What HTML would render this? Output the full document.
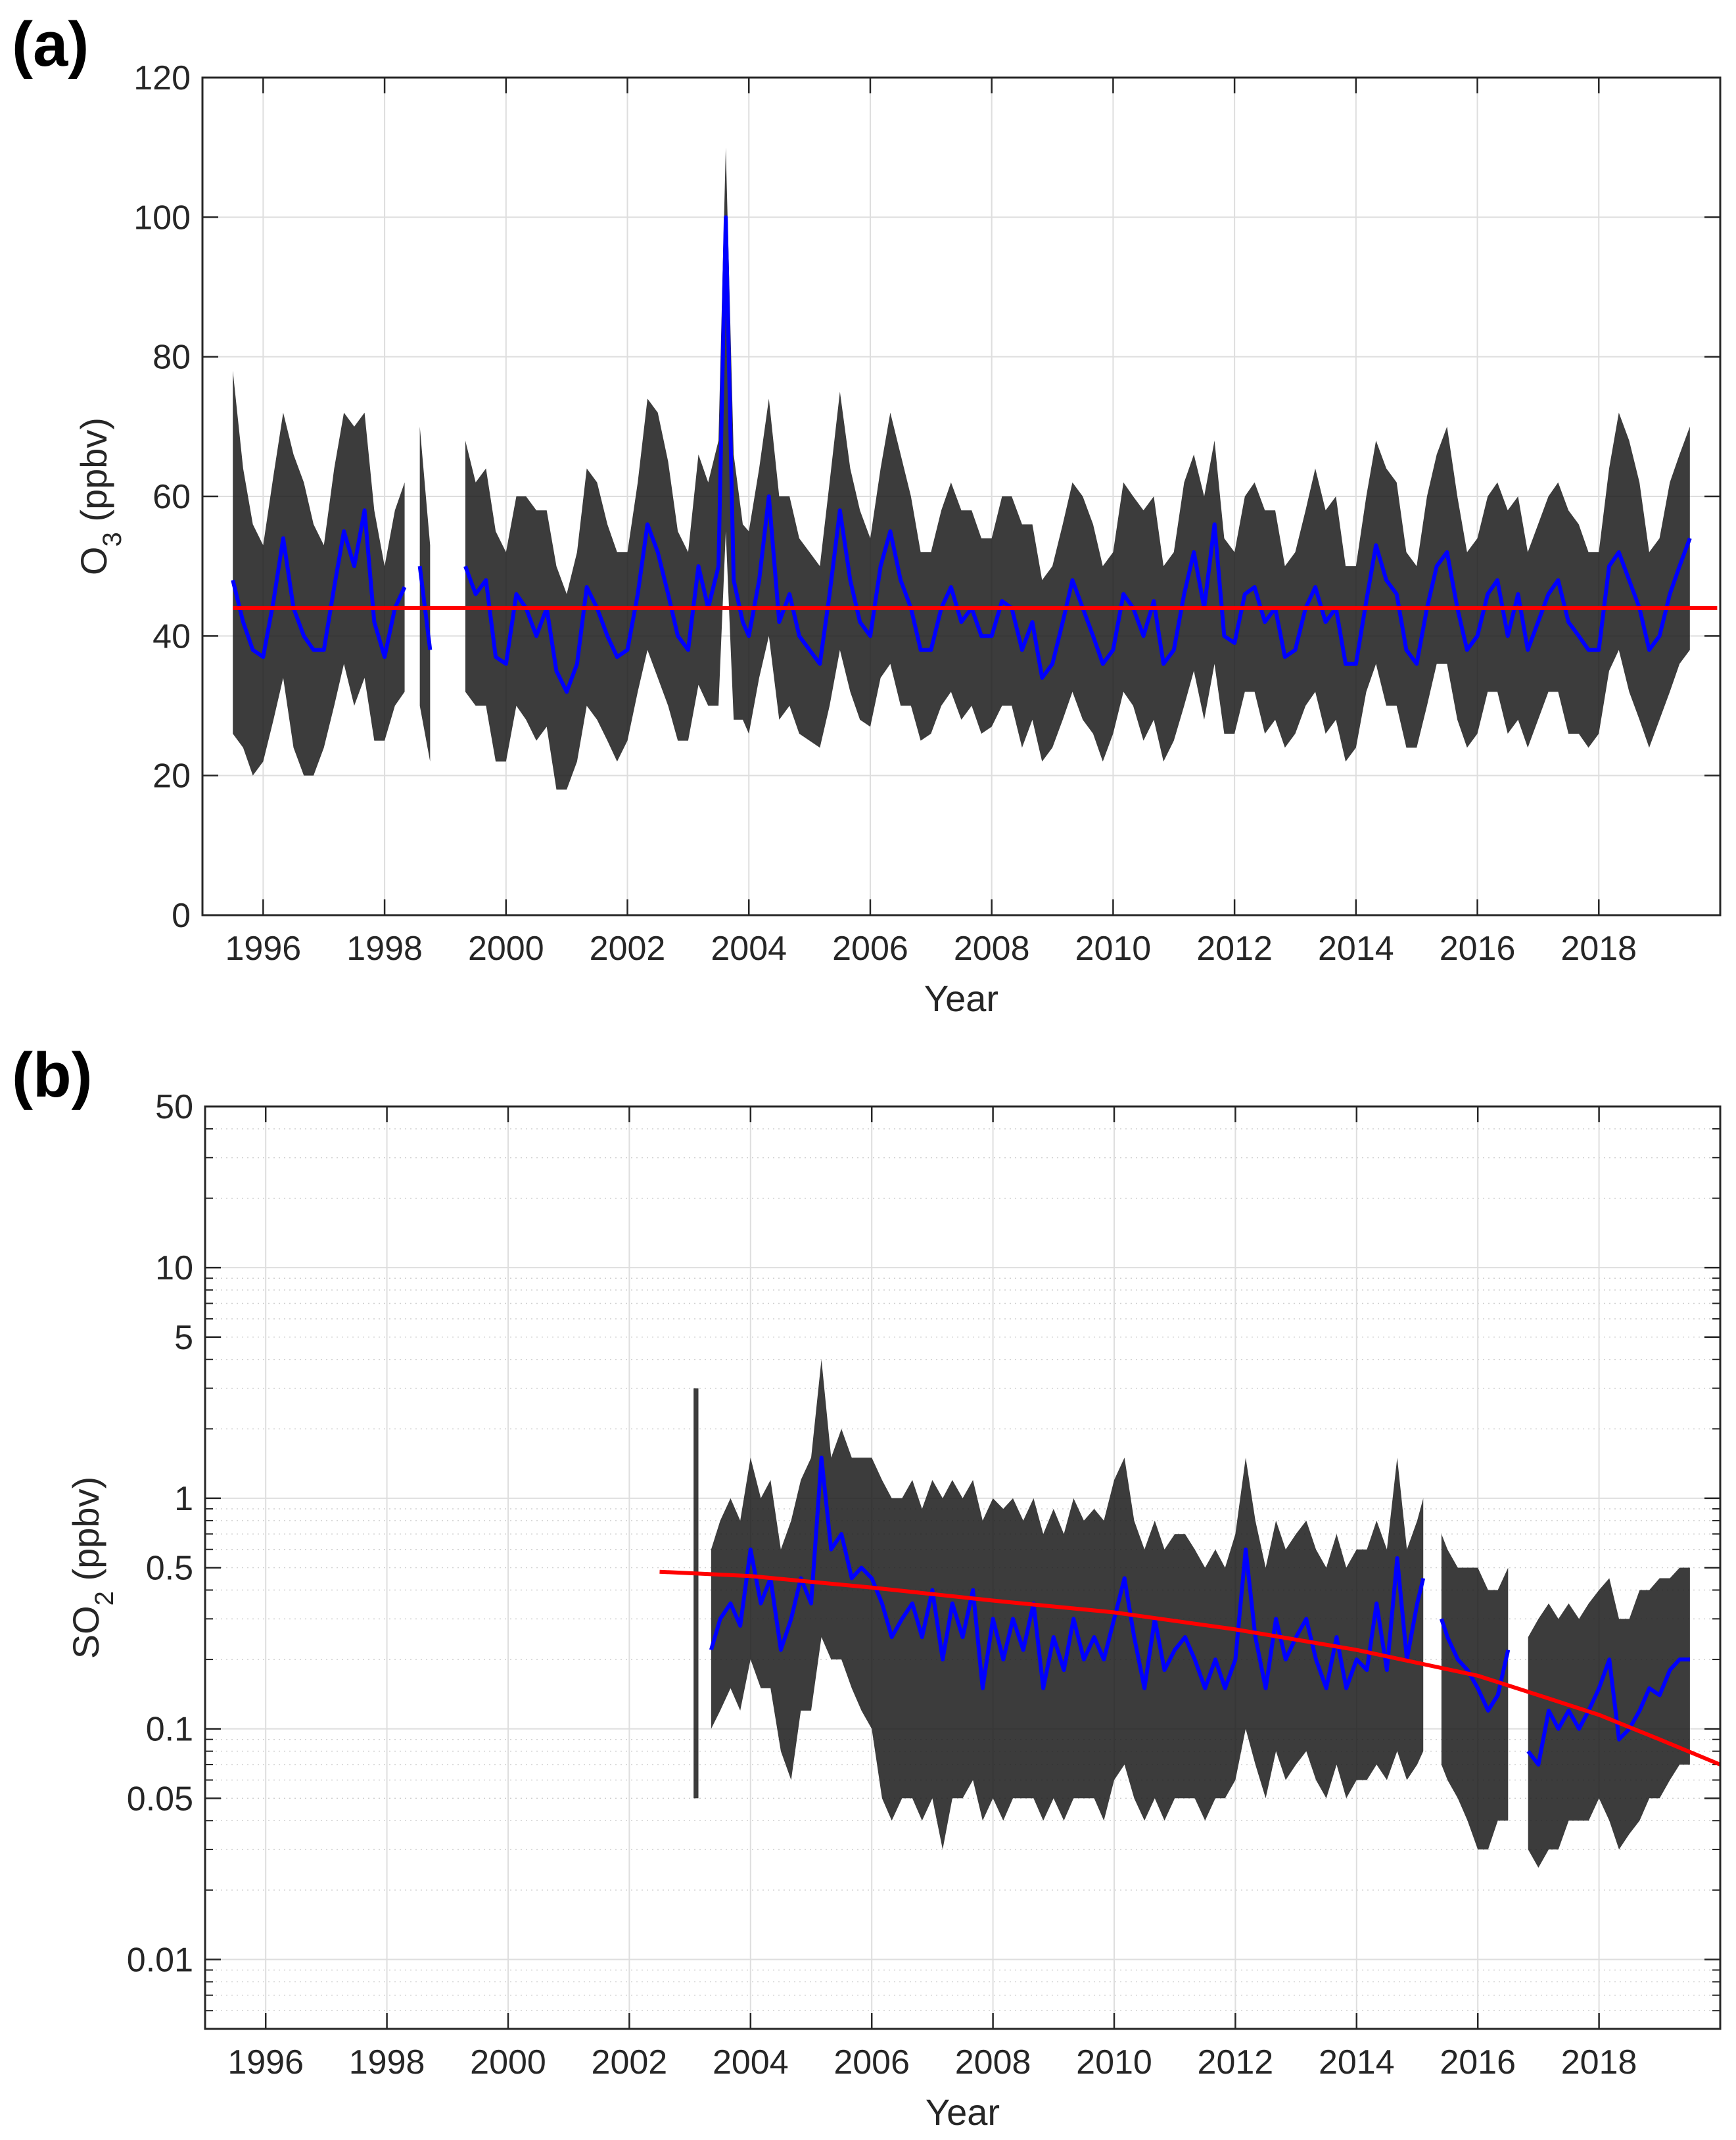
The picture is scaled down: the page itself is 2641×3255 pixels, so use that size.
<!DOCTYPE html>
<html><head><meta charset="utf-8"><style>
html,body{margin:0;padding:0;background:#fff}
svg text{font-family:"Liberation Sans",Arial,sans-serif;fill:#262626}
</style></head><body>
<svg id="fig" width="2641" height="3250" viewBox="0 0 2641 3250" xmlns="http://www.w3.org/2000/svg">
<text x="18" y="100" font-size="96" font-weight="bold" style="fill:#000">(a)</text>
<text x="18" y="1668" font-size="96" font-weight="bold" style="fill:#000">(b)</text>
<g id="ga"></g>
<g id="gb"></g>
</svg>
<script>
// ---- Panel (a) O3 data ----
const o3Time=[1995.5,1995.67,1995.83,1996.0,1996.17,1996.33,1996.5,1996.67,1996.83,1997.0,1997.17,1997.33,1997.5,1997.67,1997.83,1998.0,1998.17,1998.33,1998.58,1998.75,1999.33,1999.5,1999.67,1999.83,2000.0,2000.17,2000.33,2000.5,2000.67,2000.83,2001.0,2001.17,2001.33,2001.5,2001.67,2001.83,2002.0,2002.17,2002.33,2002.5,2002.67,2002.83,2003.0,2003.17,2003.33,2003.5,2003.62,2003.75,2003.9,2004.0,2004.17,2004.33,2004.5,2004.67,2004.83,2005.0,2005.17,2005.33,2005.5,2005.67,2005.83,2006.0,2006.17,2006.33,2006.5,2006.67,2006.83,2007.0,2007.17,2007.33,2007.5,2007.67,2007.83,2008.0,2008.17,2008.33,2008.5,2008.67,2008.83,2009.0,2009.17,2009.33,2009.5,2009.67,2009.83,2010.0,2010.17,2010.33,2010.5,2010.67,2010.83,2011.0,2011.17,2011.33,2011.5,2011.67,2011.83,2012.0,2012.17,2012.33,2012.5,2012.67,2012.83,2013.0,2013.17,2013.33,2013.5,2013.67,2013.83,2014.0,2014.17,2014.33,2014.5,2014.67,2014.83,2015.0,2015.17,2015.33,2015.5,2015.67,2015.83,2016.0,2016.17,2016.33,2016.5,2016.67,2016.83,2017.0,2017.17,2017.33,2017.5,2017.67,2017.83,2018.0,2018.17,2018.33,2018.5,2018.67,2018.83,2019.0,2019.17,2019.33,2019.5];
const o3Segment=[0,0,0,0,0,0,0,0,0,0,0,0,0,0,0,0,0,0,1,1,2,2,2,2,2,2,2,2,2,2,2,2,2,2,2,2,2,2,2,2,2,2,2,2,2,2,2,2,2,2,2,2,2,2,2,2,2,2,2,2,2,2,2,2,2,2,2,2,2,2,2,2,2,2,2,2,2,2,2,2,2,2,2,2,2,2,2,2,2,2,2,2,2,2,2,2,2,2,2,2,2,2,2,2,2,2,2,2,2,2,2,2,2,2,2,2,2,2,2,2,2,2,2,2,2,2,2,2,2,2,2,2,2,2,2,2,2,2,2,2,2,2,2,2,2];
const o3Mean=[48,42,38,37,45,54,44,40,38,38,47,55,50,58,42,37,44,47,50,38,50,46,48,37,36,46,44,40,44,35,32,36,47,44,40,37,38,46,56,52,46,40,38,50,44,50,100,48,42,40,48,60,42,46,40,38,36,46,58,48,42,40,50,55,48,44,38,38,44,47,42,44,40,40,45,44,38,42,34,36,42,48,44,40,36,38,46,44,40,45,36,38,46,52,44,56,40,39,46,47,42,44,37,38,44,47,42,44,36,36,45,53,48,46,38,36,44,50,52,44,38,40,46,48,40,46,38,42,46,48,42,40,38,38,50,52,48,44,38,40,46,50,54];
const o3Low=[26,24,20,22,28,34,24,20,20,24,30,36,30,34,25,25,30,32,30,22,32,30,30,22,22,30,28,25,27,18,18,22,30,28,25,22,25,32,38,34,30,25,25,33,30,30,55,28,28,26,34,40,28,30,26,25,24,30,38,32,28,27,34,36,30,30,25,26,30,32,28,30,26,27,30,30,24,28,22,24,28,32,28,26,22,26,32,30,25,28,22,25,30,35,28,36,26,26,32,32,26,28,24,26,30,32,26,28,22,24,32,36,30,30,24,24,30,36,36,28,24,26,32,32,26,28,24,28,32,32,26,26,24,26,35,38,32,28,24,28,32,36,38];
const o3High=[78,64,56,53,63,72,66,62,56,53,64,72,70,72,58,50,58,62,70,53,68,62,64,55,52,60,60,58,58,50,46,52,64,62,56,52,52,62,74,72,65,55,52,66,62,68,110,66,56,55,64,74,60,60,54,52,50,62,75,64,58,54,64,72,66,60,52,52,58,62,58,58,54,54,60,60,56,56,48,50,56,62,60,56,50,52,62,60,58,60,50,52,62,66,60,68,54,52,60,62,58,58,50,52,58,64,58,60,50,50,60,68,64,62,52,50,60,66,70,60,52,54,60,62,58,60,52,56,60,62,58,56,52,52,64,72,68,62,52,54,62,66,70];
const o3TrendTime=[1995.5,2019.95];
const o3TrendVal=[44,44];
const o3YTicks=[0,20,40,60,80,100,120];
const yearTicks=[1996,1998,2000,2002,2004,2006,2008,2010,2012,2014,2016,2018];

// ---- Panel (b) SO2 data ----
const so2Time=[2003.1,2003.35,2003.5,2003.67,2003.83,2004.0,2004.17,2004.33,2004.5,2004.67,2004.83,2005.0,2005.17,2005.33,2005.5,2005.67,2005.83,2006.0,2006.17,2006.33,2006.5,2006.67,2006.83,2007.0,2007.17,2007.33,2007.5,2007.67,2007.83,2008.0,2008.17,2008.33,2008.5,2008.67,2008.83,2009.0,2009.17,2009.33,2009.5,2009.67,2009.83,2010.0,2010.17,2010.33,2010.5,2010.67,2010.83,2011.0,2011.17,2011.33,2011.5,2011.67,2011.83,2012.0,2012.17,2012.33,2012.5,2012.67,2012.83,2013.0,2013.17,2013.33,2013.5,2013.67,2013.83,2014.0,2014.17,2014.33,2014.5,2014.67,2014.83,2015.0,2015.1,2015.4,2015.5,2015.67,2015.83,2016.0,2016.17,2016.33,2016.5,2016.83,2017.0,2017.17,2017.33,2017.5,2017.67,2017.83,2018.0,2018.17,2018.33,2018.5,2018.67,2018.83,2019.0,2019.17,2019.33,2019.5];
const so2Segment=[0,1,1,1,1,1,1,1,1,1,1,1,1,1,1,1,1,1,1,1,1,1,1,1,1,1,1,1,1,1,1,1,1,1,1,1,1,1,1,1,1,1,1,1,1,1,1,1,1,1,1,1,1,1,1,1,1,1,1,1,1,1,1,1,1,1,1,1,1,1,1,1,1,2,2,2,2,2,2,2,2,3,3,3,3,3,3,3,3,3,3,3,3,3,3,3,3,3];
const so2Mean=[0.85,0.22,0.3,0.35,0.28,0.6,0.35,0.45,0.22,0.3,0.45,0.35,1.5,0.6,0.7,0.45,0.5,0.45,0.35,0.25,0.3,0.35,0.25,0.4,0.2,0.35,0.25,0.4,0.15,0.3,0.2,0.3,0.22,0.35,0.15,0.25,0.18,0.3,0.2,0.25,0.2,0.3,0.45,0.25,0.15,0.3,0.18,0.22,0.25,0.2,0.15,0.2,0.15,0.2,0.6,0.25,0.15,0.3,0.2,0.25,0.3,0.2,0.15,0.25,0.15,0.2,0.18,0.35,0.18,0.55,0.2,0.35,0.45,0.3,0.25,0.2,0.18,0.15,0.12,0.14,0.22,0.08,0.07,0.12,0.1,0.12,0.1,0.12,0.15,0.2,0.09,0.1,0.12,0.15,0.14,0.18,0.2,0.2];
const so2Low=[0.05,0.1,0.12,0.15,0.12,0.2,0.15,0.15,0.08,0.06,0.12,0.12,0.25,0.2,0.2,0.15,0.12,0.1,0.05,0.04,0.05,0.05,0.04,0.05,0.03,0.05,0.05,0.06,0.04,0.05,0.04,0.05,0.05,0.05,0.04,0.05,0.04,0.05,0.05,0.05,0.04,0.06,0.07,0.05,0.04,0.05,0.04,0.05,0.05,0.05,0.04,0.05,0.05,0.06,0.1,0.07,0.05,0.08,0.06,0.07,0.08,0.06,0.05,0.07,0.05,0.06,0.06,0.07,0.06,0.08,0.06,0.07,0.08,0.07,0.06,0.05,0.04,0.03,0.03,0.04,0.04,0.03,0.025,0.03,0.03,0.04,0.04,0.04,0.05,0.04,0.03,0.035,0.04,0.05,0.05,0.06,0.07,0.07];
const so2High=[3,0.6,0.8,1.0,0.8,1.5,1.0,1.2,0.6,0.8,1.2,1.5,4,1.5,2,1.5,1.5,1.5,1.2,1.0,1.0,1.2,0.9,1.2,1.0,1.2,1.0,1.2,0.8,1.0,0.9,1.0,0.8,1.0,0.7,0.9,0.7,1.0,0.8,0.9,0.8,1.2,1.5,0.8,0.6,0.8,0.6,0.7,0.7,0.6,0.5,0.6,0.5,0.7,1.5,0.8,0.5,0.8,0.6,0.7,0.8,0.6,0.5,0.7,0.5,0.6,0.6,0.8,0.6,1.5,0.6,0.8,1.0,0.7,0.6,0.5,0.5,0.5,0.4,0.4,0.5,0.25,0.3,0.35,0.3,0.35,0.3,0.35,0.4,0.45,0.3,0.3,0.4,0.4,0.45,0.45,0.5,0.5];
const so2TrendTime=[2002.5,2004,2006,2008,2010,2012,2014,2016,2017,2018,2019,2020];
const so2TrendVal=[0.48,0.46,0.41,0.36,0.32,0.27,0.22,0.17,0.14,0.115,0.09,0.07];
const so2YTicks=[0.01,0.05,0.1,0.5,1,5,10,50];
const so2Decades=[0.01,0.1,1,10];

const NS="http://www.w3.org/2000/svg";
function mk(parent,tag,attrs){const e=document.createElementNS(NS,tag);for(const k in attrs)e.setAttribute(k,attrs[k]);parent.appendChild(e);return e;}

function drawPanel(g,cfg){
  const L=cfg.L,R=cfg.R,T=cfg.T,B=cfg.B;
  const xs=t=>L+(t-1995)/(2020-1995)*(R-L);
  const ys=cfg.ys;
  if(cfg.minor){cfg.minor.forEach(v=>{const y=ys(v);
    const l=mk(g,'line',{x1:L,x2:R,y1:y,y2:y,stroke:'#d0d0d0','stroke-width':1.5,'stroke-dasharray':'2,6'});
    
    
    const tk=mk(g,'line',{x1:L,x2:L+12,y1:y,y2:y,stroke:'#262626','stroke-width':2});
    
    
    const tk2=mk(g,'line',{x1:R-12,x2:R,y1:y,y2:y,stroke:'#262626','stroke-width':2});
    
    
  });}
  yearTicks.forEach(yr=>{const x=xs(yr);
    const l=mk(g,'line',{x1:x,x2:x,y1:T,y2:B,stroke:'#dedede','stroke-width':2});
    
    
  });
  cfg.gridY.forEach(v=>{const y=ys(v);
    const l=mk(g,'line',{x1:L,x2:R,y1:y,y2:y,stroke:'#dedede','stroke-width':2});
    
    
  });
  const segs={};
  cfg.time.forEach((t,i)=>{(segs[cfg.seg[i]]=segs[cfg.seg[i]]||[]).push(i);});
  Object.values(segs).forEach(idx=>{
    let d='';
    idx.forEach((i,k)=>{d+=(k?'L':'M')+xs(cfg.time[i])+','+ys(cfg.hi[i]);});
    if(idx.length===1){const i=idx[0];d='M'+xs(cfg.time[i]-0.04)+','+ys(cfg.hi[i])+'L'+xs(cfg.time[i]+0.04)+','+ys(cfg.hi[i])+'L'+xs(cfg.time[i]+0.04)+','+ys(cfg.lo[i])+'L'+xs(cfg.time[i]-0.04)+','+ys(cfg.lo[i]);}
    else idx.slice().reverse().forEach(i=>{d+='L'+xs(cfg.time[i])+','+ys(cfg.lo[i]);});
    const p=mk(g,'path',{d:d+'Z',fill:'#1a1a1a','fill-opacity':0.85});
    
    
  });
  Object.values(segs).forEach(idx=>{
    const pts=idx.map(i=>xs(cfg.time[i])+','+ys(cfg.mean[i])).join(' ');
    const pl=mk(g,'polyline',{points:pts,fill:'none',stroke:'#0000ff','stroke-width':6,'stroke-linejoin':'round'});
    
    
  });
  const tp=cfg.trendT.map((t,i)=>xs(Math.min(t,2020))+','+ys(cfg.trendV[i])).join(' ');
  const tl=mk(g,'polyline',{points:tp,fill:'none',stroke:'#ff0000','stroke-width':6});
  
  
  const box=mk(g,'rect',{x:L,y:T,width:R-L,height:B-T,fill:'none',stroke:'#262626','stroke-width':3});
  
  
  yearTicks.forEach(yr=>{const x=xs(yr);
    const a=mk(g,'line',{x1:x,x2:x,y1:B,y2:B-24,stroke:'#262626','stroke-width':2.5});
    
    
    const b=mk(g,'line',{x1:x,x2:x,y1:T,y2:T+24,stroke:'#262626','stroke-width':2.5});
    
    
    const tx=mk(g,'text',{x:x,y:B+68,'font-size':52,'text-anchor':'middle'});
    tx.textContent=yr;
    
    
  });
  cfg.yt.forEach(v=>{const y=ys(v);
    const a=mk(g,'line',{x1:L,x2:L+24,y1:y,y2:y,stroke:'#262626','stroke-width':2.5});
    
    
    const b=mk(g,'line',{x1:R-24,x2:R,y1:y,y2:y,stroke:'#262626','stroke-width':2.5});
    
    
    const tx=mk(g,'text',{x:L-18,y:y+18,'font-size':52,'text-anchor':'end'});
    tx.textContent=v;
    
    
  });
  const xl=mk(g,'text',{x:(L+R)/2,y:B+146,'font-size':56,'text-anchor':'middle'});
  xl.textContent='Year';
  
  
  const yl=mk(g,'text',{x:0,y:0,'font-size':56,'text-anchor':'middle',transform:'translate('+cfg.ylx+','+((T+B)/2)+') rotate(-90)'});
  yl.innerHTML=cfg.ylab;
  
  
}

const aT=118,aB=1392;
drawPanel(document.getElementById('ga'),{L:308,R:2617,T:aT,B:aB,
  ys:v=>aB-v/120*(aB-aT),time:o3Time,seg:o3Segment,mean:o3Mean,lo:o3Low,hi:o3High,
  trendT:o3TrendTime,trendV:o3TrendVal,yt:o3YTicks,gridY:o3YTicks,
  ylab:'O<tspan baseline-shift="sub" font-size="40">3</tspan> (ppbv)',ylx:162});

const bT=1683,bB=3086;
const lmin=Math.log10(0.005),lmax=Math.log10(50);
const minorVals=[];
[0.01,0.1,1,10].forEach(d=>{for(let k=2;k<=9;k++){if(d*k<=40)minorVals.push(d*k);}});
minorVals.push(0.006,0.007,0.008,0.009);
drawPanel(document.getElementById('gb'),{L:312,R:2617,T:bT,B:bB,
  ys:v=>bB-(Math.log10(v)-lmin)/(lmax-lmin)*(bB-bT),time:so2Time,seg:so2Segment,mean:so2Mean,lo:so2Low,hi:so2High,
  trendT:so2TrendTime,trendV:so2TrendVal,yt:so2YTicks,gridY:so2Decades,minor:minorVals,
  ylab:'SO<tspan baseline-shift="sub" font-size="40">2</tspan> (ppbv)',ylx:150});
</script>
</body></html>
